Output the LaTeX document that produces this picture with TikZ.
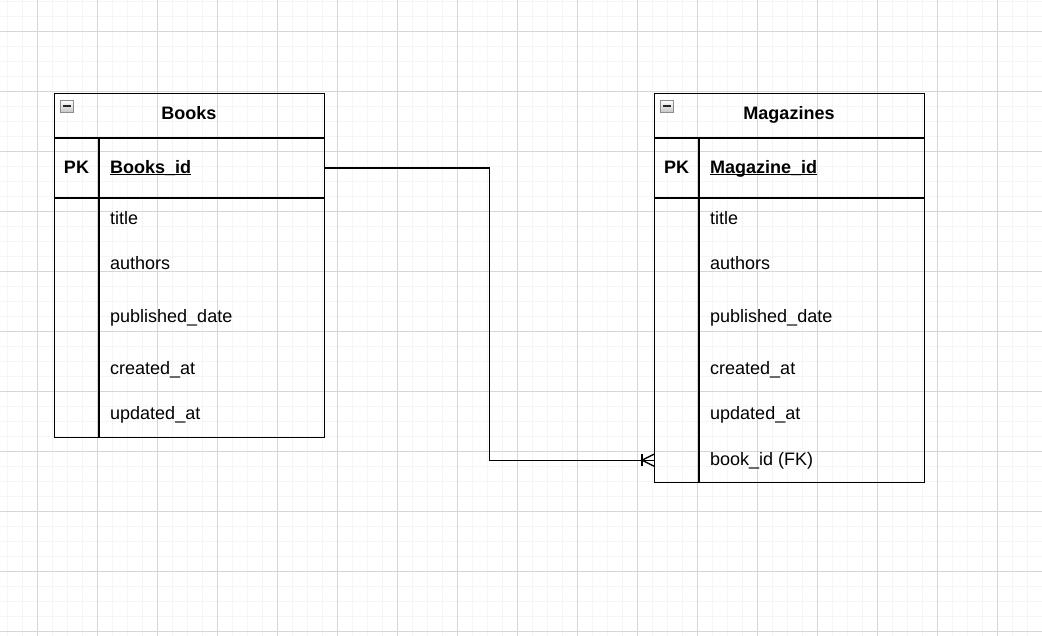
\documentclass[tikz,border=0pt]{standalone}
\usepackage{fontspec}
\setmainfont{Liberation Sans}
\usetikzlibrary{calc}
\definecolor{gridmajor}{HTML}{D6D6D6}
\definecolor{gridminor}{HTML}{F5F5F5}
\definecolor{iconborder}{HTML}{8C8C8C}
\begin{document}
\begin{tikzpicture}[x=1pt,y=-1pt,
  tbl/.style={draw=black, line width=1.4pt, inner sep=0pt, anchor=north west},
  sep/.style={draw=black, line width=1.4pt},
  row/.style={inner sep=0pt, anchor=north west},
  fld/.style={anchor=base west, inner sep=0pt, font=\fontsize{18}{21}\selectfont},
  hdr/.style={anchor=base, inner sep=0pt, font=\fontsize{18}{21}\selectfont\bfseries},
  key/.style={anchor=base west, inner sep=0pt, font=\fontsize{18}{21}\selectfont\bfseries},
  uline/.style={line width=1.3pt},
  conn/.style={draw=black, line width=1.4pt},
  icon/.style={draw=iconborder, line width=0.8pt, top color=white, bottom color=black!22, minimum width=12.5pt, minimum height=12pt, inner sep=0pt}
]
\useasboundingbox (0,0) rectangle (1042,636);
\fill[white] (0,0) rectangle (1042,636);
% grid
\foreach \x in {7.5,22.5,...,1042} \draw[gridminor, line width=1pt] (\x,0) -- (\x,636);
\foreach \y in {1.5,16.5,...,636} \draw[gridminor, line width=1pt] (0,\y) -- (1042,\y);
\foreach \x in {37.5,97.5,...,1042} \draw[gridmajor, line width=1pt] (\x,0) -- (\x,636);
\foreach \y in {31.5,91.5,...,636} \draw[gridmajor, line width=1pt] (0,\y) -- (1042,\y);

% Books table
\node[tbl, minimum width=270pt, minimum height=344pt] (books) at (54,93) {};
\node[row, minimum width=270pt, minimum height=60pt] (bpkrow) at (54,138) {};
\draw[sep] (54,138) -- (324,138);
\draw[sep] (54,198) -- (324,198);
\draw[sep] (99,138) -- (99,437);
\node[icon] (bicon) at (67,106) {};
\draw[line width=1.5pt, black!85] (63,106) -- (71,106);
\node[hdr] (btitle) at (189,119.3) {Books};
\node[hdr] (bpk) at (76.5,173.3) {PK};
\node[key] (bid) at (110,173.3) {Books\_id};
\draw[uline] ([yshift=-1.2pt]bid.base west) -- ([yshift=-1.2pt]bid.base east);
\node[fld] (b1) at (110,224.8) {title};
\node[fld] (b2) at (110,269.5) {authors};
\node[fld] (b3) at (110,322.5) {published\_date};
\node[fld] (b4) at (110,374.5) {created\_at};
\node[fld] (b5) at (110,419.5) {updated\_at};

% Magazines table
\node[tbl, minimum width=270pt, minimum height=389pt] (mags) at (654,93) {};
\draw[sep] (654,138) -- (924,138);
\draw[sep] (654,198) -- (924,198);
\draw[sep] (699,138) -- (699,482);
\node[row, minimum width=270pt, minimum height=46pt] (mfkrow) at (654,437) {};
\node[icon] (micon) at (667,106) {};
\draw[line width=1.5pt, black!85] (663,106) -- (671,106);
\node[hdr] (mtitle) at (789,119.3) {Magazines};
\node[hdr] (mpk) at (676.5,173.3) {PK};
\node[key] (mid) at (710,173.3) {Magazine\_id};
\draw[uline] ([yshift=-1.2pt]mid.base west) -- ([yshift=-1.2pt]mid.base east);
\node[fld] (m1) at (710,224.8) {title};
\node[fld] (m2) at (710,269.5) {authors};
\node[fld] (m3) at (710,322.5) {published\_date};
\node[fld] (m4) at (710,374.5) {created\_at};
\node[fld] (m5) at (710,419.5) {updated\_at};
\node[fld] (m6) at (710,465.3) {book\_id (FK)};

% connector with one-to-many crow's foot
\draw[conn] (bpkrow.east) -- ++(165,0) |- (mfkrow.west);
\draw[conn] ($(mfkrow.west)+(-12,-6)$) -- ++(0,12);
\draw[conn] ($(mfkrow.west)+(0,-6)$) -- ($(mfkrow.west)+(-12,0)$) -- ($(mfkrow.west)+(0,6)$);
\end{tikzpicture}
\end{document}
